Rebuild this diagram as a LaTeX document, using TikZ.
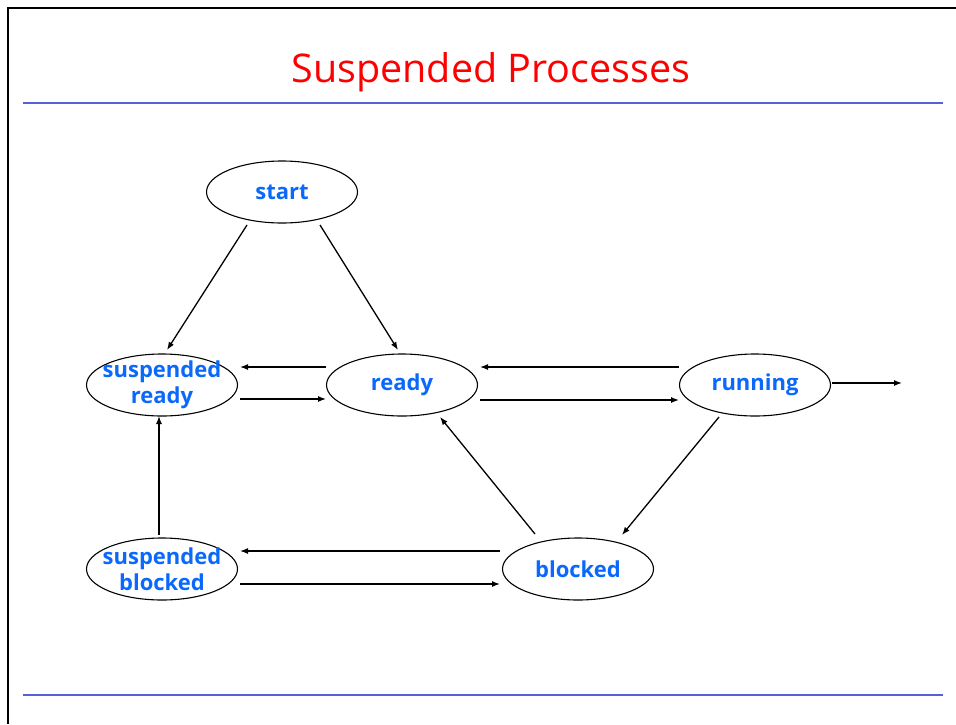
\documentclass[tikz,border=0pt]{standalone}
\usepackage{fontspec}
\setmainfont{Open Sans}
\usetikzlibrary{shapes.geometric,arrows.meta}
\definecolor{titlered}{RGB}{255,0,0}
\definecolor{statblue}{RGB}{10,105,250}
\definecolor{rulecol}{RGB}{85,95,215}
\tikzset{
  state/.style={ellipse,draw,line width=1.1pt,minimum width=151pt,minimum height=62pt,
    inner xsep=-10pt,inner ysep=-4pt,align=center,
    font=\fontsize{22}{26}\selectfont\bfseries,text=statblue},
  arr/.style={line width=1.3pt,-{Latex[length=8pt,width=6pt]}},
  rulerline/.style={rulecol,line width=2pt},
  frameline/.style={black,line width=2pt}
}
\begin{document}
\begin{tikzpicture}[x=1pt,y=-1pt]
\useasboundingbox (0,0) rectangle (956,724);
% slide frame and rules
\draw[frameline] (7,8) -- (956,8);
\draw[frameline] (8,7) -- (8,724);
\draw[rulerline] (23,103) -- (943,103);
\draw[rulerline] (23,695) -- (943,695);
% title
\node[text=titlered,font=\fontsize{39.5}{44}\selectfont] (title) at (491,72) {Suspended Processes};
% states
\node[state] (start) at (282,192) {start};
\node[state] (sready) at (162,385) {suspended\\ready};
\node[state] (ready) at (402,385) {ready};
\node[state] (running) at (755,385) {running};
\node[state] (sblocked) at (162,569) {suspended\\blocked};
\node[state] (blocked) at (578,569) {blocked};
\coordinate (exit) at (902,383);
% transitions
\draw[arr] ([shift={(-35,33)}]start.center) -- ([shift={(5,-35)}]sready.center);
\draw[arr] ([shift={(38,33)}]start.center) -- ([shift={(-4,-35)}]ready.center);
\draw[arr] ([shift={(-76,-18)}]ready.center) -- ([shift={(78,-18)}]sready.center);
\draw[arr] ([shift={(78,14)}]sready.center) -- ([shift={(-76,14)}]ready.center);
\draw[arr] ([shift={(-76,-18)}]running.center) -- ([shift={(78,-18)}]ready.center);
\draw[arr] ([shift={(78,15)}]ready.center) -- ([shift={(-76,15)}]running.center);
\draw[arr] ([shift={(77,-2)}]running.center) -- (exit);
\draw[arr] ([shift={(-36,32)}]running.center) -- ([shift={(44,-34)}]blocked.center);
\draw[arr] ([shift={(-43,-35)}]blocked.center) -- ([shift={(38,32)}]ready.center);
\draw[arr] ([shift={(-3,-34)}]sblocked.center) -- ([shift={(-3,31)}]sready.center);
\draw[arr] ([shift={(-78,-18)}]blocked.center) -- ([shift={(78,-18)}]sblocked.center);
\draw[arr] ([shift={(78,15)}]sblocked.center) -- ([shift={(-78,15)}]blocked.center);
\end{tikzpicture}
\end{document}
